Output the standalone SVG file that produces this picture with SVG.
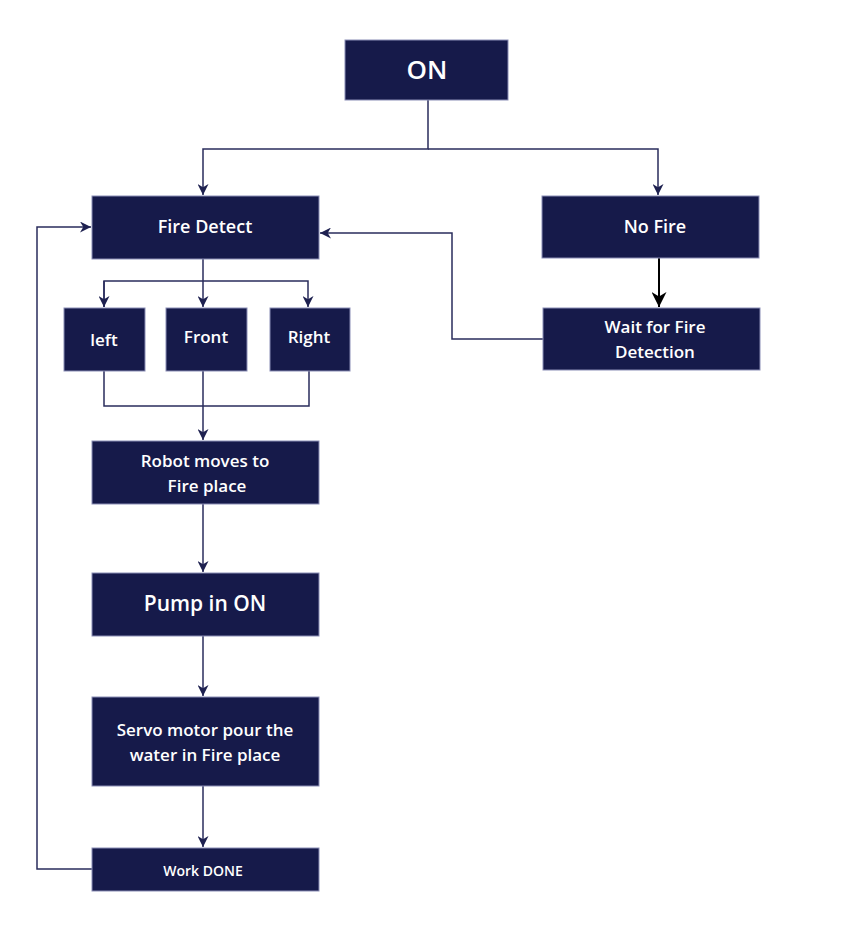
<svg xmlns="http://www.w3.org/2000/svg" width="853" height="936" viewBox="0 0 853 936">
<style>
.box{fill:#161a4a;stroke:#8a8db5;stroke-width:1}
.t{fill:#ffffff;font-family:"Open Sans","Liberation Sans",sans-serif;font-weight:600;text-anchor:middle}
.c{fill:none;stroke:#2a2d5c;stroke-width:1.5}
</style>
<defs>
<marker id="a" viewBox="0 0 10 10" refX="10" refY="5" markerWidth="11" markerHeight="11" markerUnits="userSpaceOnUse" orient="auto">
<path d="M0,0 L10,5 L0,10 L3,5 Z" fill="#1e2150"/>
</marker>
<marker id="b" viewBox="0 0 10 10" refX="10" refY="5" markerWidth="15" markerHeight="15" markerUnits="userSpaceOnUse" orient="auto">
<path d="M0,0 L10,5 L0,10 L3,5 Z" fill="#000"/>
</marker>
</defs>
<rect width="853" height="936" fill="#fff"/>
<g id="connectors">
<path class="c" d="M428,100 V149 H203 V195" marker-end="url(#a)"/>
<path class="c" d="M428,149 H658 V195" marker-end="url(#a)"/>
<path class="c" d="M203,259 V307" marker-end="url(#a)"/>
<path class="c" d="M104,307 V281 H308 V307" marker-end="url(#a)"/>
<path class="c" d="M104,281 V307" marker-end="url(#a)"/>
<path class="c" d="M104,371 V406 H309 V371"/>
<path class="c" d="M203,371 V440" marker-end="url(#a)"/>
<path class="c" d="M203,504 V572" marker-end="url(#a)"/>
<path class="c" d="M203,636 V696" marker-end="url(#a)"/>
<path class="c" d="M203,786 V847" marker-end="url(#a)"/>
<path class="c" d="M92,869 H37 V227 H91" marker-end="url(#a)"/>
<path class="c" d="M543,339 H452 V233 H320" marker-end="url(#a)"/>
<path fill="none" stroke="#000" stroke-width="2" d="M659,258 V307" marker-end="url(#b)"/>
</g>
<g id="n-on"><rect class="box" x="345" y="40" width="163" height="60"/><text class="t" x="427" y="79" font-size="26">ON</text></g>
<g id="n-firedetect"><rect class="box" x="92" y="196" width="227" height="63"/><text class="t" x="205" y="233" font-size="18">Fire Detect</text></g>
<g id="n-nofire"><rect class="box" x="542" y="196" width="217" height="62"/><text class="t" x="655" y="233" font-size="18">No Fire</text></g>
<g id="n-wait"><rect class="box" x="543" y="308" width="217" height="62"/><text class="t" x="655" y="333" font-size="17">Wait for Fire</text><text class="t" x="655" y="358" font-size="17">Detection</text></g>
<g id="n-left"><rect class="box" x="64" y="308" width="81" height="63"/><text class="t" x="104" y="346" font-size="17">left</text></g>
<g id="n-front"><rect class="box" x="166" y="308" width="81" height="63"/><text class="t" x="206" y="343" font-size="17">Front</text></g>
<g id="n-right"><rect class="box" x="270" y="308" width="80" height="63"/><text class="t" x="309" y="343" font-size="17">Right</text></g>
<g id="n-robot"><rect class="box" x="92" y="441" width="227" height="63"/><text class="t" x="205" y="467" font-size="17">Robot moves to</text><text class="t" x="207" y="492" font-size="17">Fire place</text></g>
<g id="n-pump"><rect class="box" x="92" y="573" width="227" height="63"/><text class="t" x="205" y="611" font-size="21">Pump in ON</text></g>
<g id="n-servo"><rect class="box" x="92" y="697" width="227" height="89"/><text class="t" x="205" y="736" font-size="17">Servo motor pour the</text><text class="t" x="205" y="761" font-size="17">water in Fire place</text></g>
<g id="n-done"><rect class="box" x="92" y="848" width="227" height="43"/><text class="t" x="203" y="876" font-size="14">Work DONE</text></g>
</svg>
